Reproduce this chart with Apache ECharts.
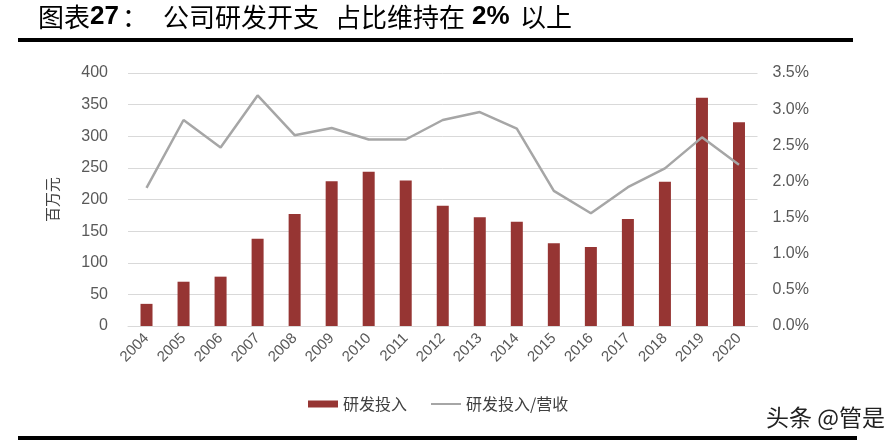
<!DOCTYPE html>
<html>
<head>
<meta charset="utf-8">
<script src="https://cdn.jsdelivr.net/npm/echarts@6/dist/echarts.min.js"></script>
<style>
html,body{margin:0;padding:0;background:#fff;}
#main{width:894px;height:443px;}
</style>
</head>
<body>
<div id="main"></div>
<script>
const years = ['2004','2005','2006','2007','2008','2009','2010','2011','2012','2013','2014','2015','2016','2017','2018','2019','2020'];
const rdSpend = [35, 70, 78, 138, 177, 229, 244, 230, 190, 172, 165, 131, 125, 169, 228, 361, 322];
const rdRatio = [1.91, 2.85, 2.47, 3.19, 2.64, 2.74, 2.58, 2.58, 2.85, 2.96, 2.73, 1.87, 1.56, 1.92, 2.18, 2.61, 2.23];
const seriesNames = ['研发投入', '研发投入/营收'];
const leftAxisName = '百万元';

const chart = echarts.init(document.getElementById('main'));
const cjk = '"Noto Sans CJK SC", "Noto Sans", sans-serif';
const latin = '"Liberation Sans", Arial, sans-serif';
const titleStyle = (txt, x, bold) => ({
  type: 'text', left: x, top: 4,
  style: { text: txt, fontSize: 26, fontFamily: bold ? latin : cjk, fontWeight: bold ? 'bold' : 'normal', fill: '#000' }
});
chart.setOption({
  animation: false,
  backgroundColor: '#fff',
  grid: { left: 128, right: 136.5, top: 73, bottom: 117 },
  legend: {
    left: 303, top: 391,
    itemWidth: 30, itemHeight: 7, itemGap: 24,
    symbolKeepAspect: true,
    textStyle: { fontSize: 16, color: '#404040', fontFamily: cjk },
    data: [
      { name: seriesNames[0], icon: 'rect' },
      { name: seriesNames[1], icon: 'path://M0,0H30V2H0Z' }
    ]
  },
  xAxis: {
    type: 'category',
    data: years,
    boundaryGap: true,
    axisLine: { lineStyle: { color: '#D9D9D9', width: 1 } },
    axisTick: { show: false },
    axisLabel: { rotate: 45, color: '#595959', fontSize: 15, fontFamily: latin, margin: 10, interval: 0 }
  },
  yAxis: [
    {
      type: 'value', min: 0, max: 400, interval: 50,
      name: leftAxisName, nameLocation: 'middle', nameRotate: 90, nameGap: 68,
      nameTextStyle: { fontSize: 15, color: '#404040', fontFamily: cjk },
      axisLine: { show: false }, axisTick: { show: false },
      axisLabel: { color: '#595959', fontSize: 16, fontFamily: latin, margin: 20 },
      splitLine: { lineStyle: { color: '#D9D9D9', width: 1 } }
    },
    {
      type: 'value', min: 0, max: 3.5, interval: 0.5,
      axisLine: { show: false }, axisTick: { show: false },
      axisLabel: { color: '#595959', fontSize: 16, fontFamily: latin, margin: 15,
        formatter: v => v.toFixed(1) + '%' },
      splitLine: { show: false }
    }
  ],
  series: [
    {
      name: seriesNames[0], type: 'bar', data: rdSpend, barWidth: 12,
      itemStyle: { color: '#963533' }
    },
    {
      name: seriesNames[1], type: 'line', yAxisIndex: 1, data: rdRatio,
      symbol: 'none', showSymbol: false,
      lineStyle: { color: '#A6A6A6', width: 2.5 },
      itemStyle: { color: '#A6A6A6' }
    }
  ],
  graphic: [
    titleStyle('图表', 38, false),
    titleStyle('27', 90, true),
    titleStyle('：', 122, false),
    titleStyle('公司研发开支', 163, false),
    titleStyle('占比维持在', 335, false),
    titleStyle('2%', 472, true),
    titleStyle('以上', 520, false),
    { type: 'rect', shape: { x: 18, y: 38, width: 835, height: 4 }, style: { fill: '#000' } },
    { type: 'rect', shape: { x: 18, y: 436, width: 839, height: 4 }, style: { fill: '#000' } },
    { type: 'text', left: 766, top: 406,
      style: { text: '头条 @管是', fontSize: 23, fontFamily: cjk, fill: '#222' } }
  ]
});
</script>
</body>
</html>
